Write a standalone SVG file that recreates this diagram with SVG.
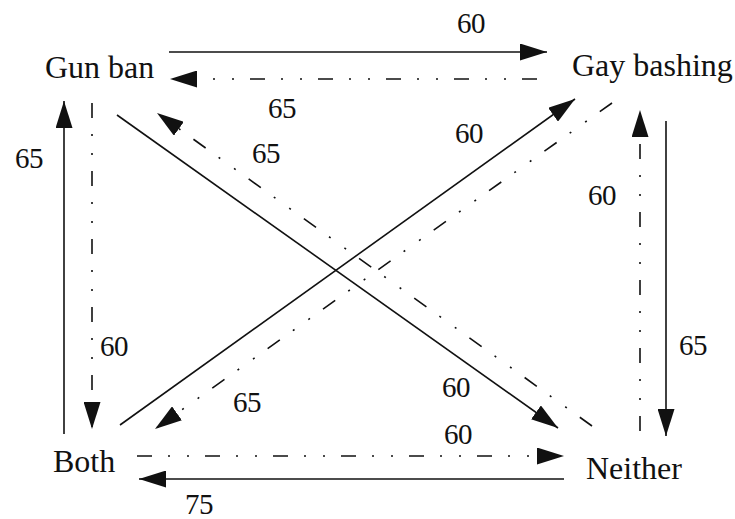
<svg xmlns="http://www.w3.org/2000/svg" width="735" height="519" viewBox="0 0 735 519">
<style>
.node{font-family:"Liberation Serif","Times New Roman",serif;font-size:32px;fill:#111}
.lbl{font-family:"Liberation Serif","Times New Roman",serif;font-size:29px;fill:#111;letter-spacing:-0.5px}
.solid{stroke:#111;stroke-width:1.6;fill:none;marker-end:url(#ah)}
.dd{stroke:#111;stroke-width:1.6;fill:none;stroke-dasharray:15 16 2 17 2 16;marker-end:url(#ah)}
</style>
<defs>
<marker id="ah" markerUnits="userSpaceOnUse" markerWidth="27" markerHeight="17" refX="27" refY="8.5" orient="auto">
<path d="M0,0 L27,8.5 L0,17 Z" fill="#111"/>
</marker>
</defs>
<rect width="735" height="519" fill="#fff"/>
<g id="gun-ban"><text class="node" x="45" y="78">Gun ban</text></g>
<g id="gay-bashing"><text class="node" x="572" y="76">Gay bashing</text></g>
<g id="both"><text class="node" x="53" y="472">Both</text></g>
<g id="neither"><text class="node" x="586" y="479">Neither</text></g>
<g id="connectors">
<line class="solid" x1="169" y1="52" x2="547" y2="52"/>
<line class="dd" x1="537" y1="79" x2="170" y2="79"/>
<line class="solid" x1="64" y1="434" x2="64" y2="101"/>
<line class="dd" x1="92" y1="103" x2="92" y2="429"/>
<line class="solid" x1="117" y1="115" x2="558" y2="428"/>
<line class="dd" x1="592" y1="426" x2="157" y2="113"/>
<line class="solid" x1="120" y1="425" x2="575" y2="99"/>
<line class="dd" x1="612" y1="103" x2="155" y2="429"/>
<line class="dd" x1="640" y1="431" x2="640" y2="110"/>
<line class="solid" x1="666" y1="121" x2="666" y2="436"/>
<line class="dd" x1="137" y1="456" x2="564" y2="456"/>
<line class="solid" x1="564" y1="479" x2="139" y2="479"/>
</g>
<g id="labels">
<text class="lbl" x="457" y="33">60</text>
<text class="lbl" x="268" y="118">65</text>
<text class="lbl" x="252" y="163">65</text>
<text class="lbl" x="455" y="143">60</text>
<text class="lbl" x="15" y="168">65</text>
<text class="lbl" x="100" y="356">60</text>
<text class="lbl" x="588" y="205">60</text>
<text class="lbl" x="679" y="355">65</text>
<text class="lbl" x="233" y="412">65</text>
<text class="lbl" x="442" y="397">60</text>
<text class="lbl" x="444" y="444">60</text>
<text class="lbl" x="185" y="514">75</text>
</g>
</svg>
